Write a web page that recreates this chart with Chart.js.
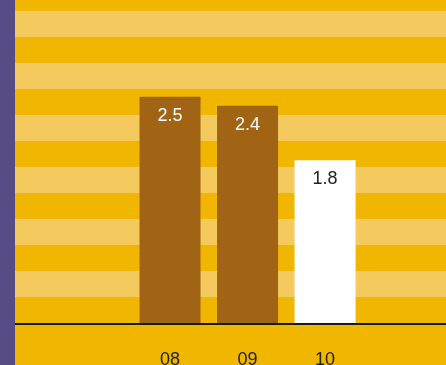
<!DOCTYPE html>
<html>
<head>
<meta charset="utf-8">
<script src="https://cdn.jsdelivr.net/npm/chart.js@4"></script>
<style>
  html, body { margin: 0; padding: 0; background: #F1B600; }
  #wrap { width: 446px; height: 365px; }
</style>
</head>
<body>
<div id="wrap"><canvas id="grafico"></canvas></div>
<script>
const categories = ['08', '09', '10'];
const years = [8, 9, 10];
const values = [2.5, 2.4, 1.8];
const barColors = ['#A06414', '#A06414', '#FFFFFF'];
const labelColors = ['#FFFFFF', '#FFFFFF', '#222222'];

const fonte = 'Liberation Sans, Arial, Helvetica, sans-serif';

// fundo: faixa roxa, amarelo e listras claras
const fundoPlugin = {
  id: 'fundo',
  beforeDraw(chart) {
    const ctx = chart.ctx;
    const area = chart.chartArea;
    const band = chart.scales.band;
    ctx.save();
    ctx.fillStyle = '#F1B600';
    ctx.fillRect(0, 0, chart.width, chart.height);
    ctx.fillStyle = '#F4CA5E';
    for (let i = 1; i < band.max; i += 2) {
      const yTop = Math.max(band.getPixelForValue(i + 1), area.top);
      const yBot = band.getPixelForValue(i);
      ctx.fillRect(area.left, yTop, area.right - area.left, yBot - yTop);
    }
    ctx.fillStyle = '#574C85';
    ctx.fillRect(0, 0, area.left, chart.height);
    ctx.restore();
  },
  afterDatasetsDraw(chart) {
    const ctx = chart.ctx;
    const area = chart.chartArea;
    const y0 = chart.scales.y.getPixelForValue(0);
    ctx.save();
    ctx.fillStyle = '#1A1A1A';
    ctx.fillRect(area.left, y0, area.right - area.left, 2);

    const meta = chart.getDatasetMeta(0);
    ctx.font = '18px ' + fonte;
    ctx.textAlign = 'center';
    ctx.textBaseline = 'top';
    meta.data.forEach((bar, i) => {
      ctx.fillStyle = labelColors[i];
      ctx.fillText(values[i].toFixed(1), bar.x, bar.y + 10);
    });
    ctx.restore();
  }
};

new Chart(document.getElementById('grafico'), {
  type: 'bar',
  data: {
    datasets: [{
      data: years.map((x, i) => ({ x: x, y: values[i] })),
      backgroundColor: barColors,
      borderWidth: 0,
      categoryPercentage: 1,
      barPercentage: 0.787
    }]
  },
  options: {
    responsive: true,
    maintainAspectRatio: false,
    animation: false,
    layout: { padding: { left: 15, top: 0, right: 0, bottom: 0 } },
    plugins: {
      legend: { display: false },
      tooltip: { enabled: false }
    },
    scales: {
      x: {
        type: 'linear',
        offset: false,
        min: 6,
        max: 11.56,
        grid: { display: false, drawTicks: false },
        border: { display: false },
        afterBuildTicks(scale) {
          scale.ticks = years.map(v => ({ value: v }));
        },
        afterFit(scale) {
          scale.height = 42;
        },
        ticks: {
          autoSkip: false,
          maxRotation: 0,
          padding: 26,
          color: '#222222',
          font: { family: fonte, size: 18 },
          callback: (v) => categories[years.indexOf(v)]
        }
      },
      y: {
        min: 0,
        max: 3.57,
        display: false
      },
      band: {
        type: 'linear',
        position: 'right',
        min: 0,
        max: 12.42,
        display: false
      }
    }
  },
  plugins: [fundoPlugin]
});
</script>
</body>
</html>
